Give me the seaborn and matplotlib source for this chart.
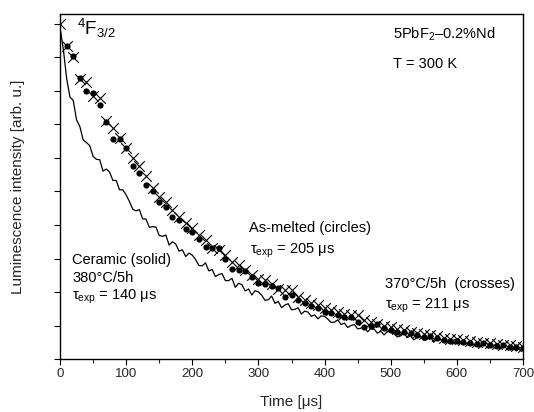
import matplotlib
matplotlib.use("Agg")
import matplotlib.pyplot as plt
import seaborn as sns
from matplotlib.ticker import MultipleLocator

# ---- data ----
cross_time = list(range(0, 701, 10))
crosses = [1.0, 0.935, 0.90, 0.836, 0.828, 0.785, 0.778, 0.71, 0.69, 0.66,
           0.63, 0.60, 0.575, 0.545, 0.51, 0.485, 0.47, 0.445, 0.425, 0.405,
           0.39, 0.37, 0.355, 0.33, 0.325, 0.31, 0.29, 0.28, 0.265, 0.25,
           0.24, 0.235, 0.225, 0.21, 0.205, 0.205, 0.185, 0.175, 0.168, 0.16,
           0.152, 0.145, 0.14, 0.135, 0.13, 0.132, 0.115, 0.11, 0.105, 0.10,
           0.095, 0.09, 0.087, 0.082, 0.078, 0.075, 0.071, 0.068, 0.064, 0.061,
           0.059, 0.056, 0.054, 0.051, 0.049, 0.047, 0.045, 0.043, 0.041, 0.038,
           0.037]

circle_time = list(range(10, 701, 10))
circles = [0.935, 0.905, 0.84, 0.80, 0.793, 0.757, 0.708, 0.656, 0.658, 0.629,
           0.576, 0.555, 0.52, 0.50, 0.47, 0.455, 0.424, 0.415, 0.387, 0.378,
           0.357, 0.335, 0.332, 0.33, 0.30, 0.268, 0.266, 0.262, 0.244, 0.228,
           0.224, 0.218, 0.211, 0.186, 0.191, 0.176, 0.166, 0.158, 0.153, 0.141,
           0.137, 0.131, 0.124, 0.126, 0.111, 0.097, 0.10, 0.104, 0.092, 0.088,
           0.082, 0.080, 0.078, 0.072, 0.066, 0.068, 0.062, 0.058, 0.054, 0.055,
           0.050, 0.048, 0.046, 0.047, 0.042, 0.040, 0.042, 0.036, 0.035, 0.033]

solid_time = list(range(0, 701, 5))
solid = [0.990, 0.925, 0.838, 0.782, 0.772, 0.714, 0.694, 0.654, 0.646, 0.637,
         0.605, 0.596, 0.595, 0.561, 0.567, 0.558, 0.533, 0.533, 0.505, 0.505,
         0.490, 0.470, 0.447, 0.442, 0.446, 0.418, 0.418, 0.393, 0.395, 0.394,
         0.369, 0.366, 0.370, 0.340, 0.350, 0.343, 0.322, 0.326, 0.306, 0.316,
         0.310, 0.297, 0.279, 0.278, 0.287, 0.263, 0.267, 0.246, 0.252, 0.255,
         0.234, 0.234, 0.241, 0.214, 0.226, 0.222, 0.203, 0.209, 0.191, 0.204,
         0.200, 0.190, 0.175, 0.177, 0.188, 0.166, 0.172, 0.153, 0.161, 0.165,
         0.147, 0.148, 0.153, 0.134, 0.143, 0.140, 0.127, 0.132, 0.120, 0.129,
         0.127, 0.119, 0.109, 0.110, 0.117, 0.103, 0.107, 0.094, 0.100, 0.103,
         0.090, 0.092, 0.098, 0.081, 0.091, 0.089, 0.077, 0.083, 0.072, 0.082,
         0.081, 0.075, 0.066, 0.069, 0.077, 0.064, 0.069, 0.057, 0.065, 0.068,
         0.056, 0.059, 0.066, 0.050, 0.061, 0.060, 0.049, 0.056, 0.046, 0.057,
         0.057, 0.051, 0.043, 0.046, 0.055, 0.042, 0.048, 0.036, 0.044, 0.048,
         0.036, 0.039, 0.046, 0.030, 0.041, 0.040, 0.028, 0.035, 0.024, 0.034,
         0.033]

x_ticks = [0, 100, 200, 300, 400, 500, 600, 700]
y_ticks = [0.0, 0.1, 0.2, 0.3, 0.4, 0.5, 0.6, 0.7, 0.8, 0.9, 1.0]

# ---- style ----
sns.set_style("ticks")
plt.rcParams["font.family"] = ["Liberation Sans", "DejaVu Sans"]
plt.rcParams["mathtext.fontset"] = "custom"
plt.rcParams["mathtext.rm"] = "Liberation Sans"
plt.rcParams["mathtext.it"] = "Liberation Sans:italic"
plt.rcParams["mathtext.bf"] = "Liberation Sans:bold"

W, H = 534, 412
fig = plt.figure(figsize=(W / 100, H / 100), dpi=100)
L, R, T, B = 60, 523, 14.5, 359
ax = fig.add_axes([L / W, 1 - B / H, (R - L) / W, (B - T) / H])

sns.lineplot(x=solid_time, y=solid, ax=ax, color="black", linewidth=0.9)
sns.scatterplot(x=circle_time, y=circles, ax=ax, color="black", marker="o",
                s=20, edgecolor="black", linewidth=0)
sns.scatterplot(x=cross_time, y=crosses, ax=ax, color="black", marker="x",
                s=58, linewidth=0.8)

ax.set_xlim(0, 700)
ax.set_ylim(0, (B - T) / 335.0)
ax.set_xticks(x_ticks)
ax.xaxis.set_minor_locator(MultipleLocator(50))
ax.set_yticks(y_ticks)
ax.set_yticklabels([])
ax.tick_params(axis="both", which="major", direction="out", length=4,
               width=0.8, labelsize=9.5, pad=2.5, color="black")
ax.tick_params(axis="x", which="minor", direction="out", length=3, width=0.8)
for s in ax.spines.values():
    s.set_linewidth(1.0)
    s.set_color("black")

ax.set_xlabel("Time [μs]", fontsize=11)
ax.set_ylabel("Luminescence intensity [arb. u.]", fontsize=11)
ax.xaxis.set_label_coords(0.5, -0.105)
ax.yaxis.set_label_coords(-0.075, 0.5)


def ax_xy(px, py):
    return (px - L) / (R - L), (B - py) / (B - T)


def put(px, py, s, size=10.5):
    x, y = ax_xy(px, py)
    ax.text(x, y, s, transform=ax.transAxes, fontsize=size, va="baseline",
            ha="left", color="black")


put(77, 35, r"$^{4}$F$_{3/2}$", size=13.5)
put(393, 39, r"5PbF$_{2}$–0.2%Nd")
put(393, 68.3, "T = 300 K")
put(72, 264, "Ceramic (solid)")
put(72, 282, "380°C/5h")
put(72, 300, r"τ$_{\rm exp}$ = 140 μs")
put(249, 232.5, "As-melted (circles)")
put(250, 254, r"τ$_{\rm exp}$ = 205 μs")
put(385, 288, "370°C/5h  (crosses)")
put(385, 309, r"τ$_{\rm exp}$ = 211 μs")

fig.savefig("out.png", dpi=100)
